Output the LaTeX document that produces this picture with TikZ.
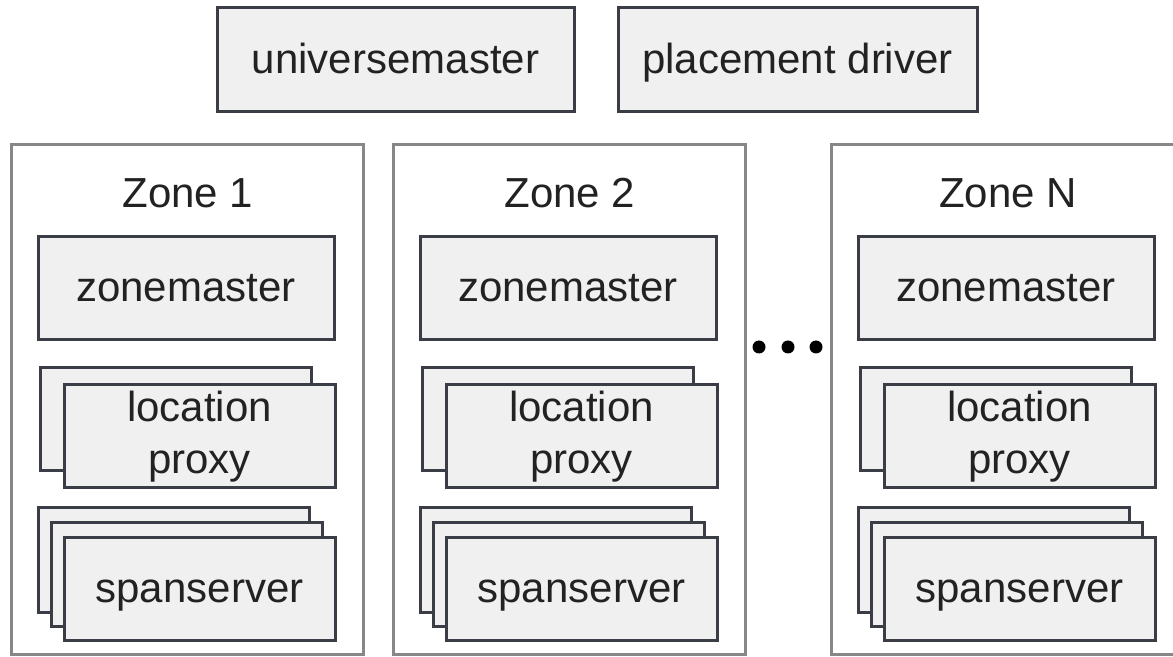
\documentclass[tikz,border=0pt]{standalone}
\usepackage{fontspec}
\setmainfont{Liberation Sans}
\definecolor{boxline}{RGB}{58,60,70}
\definecolor{boxfill}{RGB}{240,240,240}
\definecolor{zoneline}{RGB}{135,135,135}
\definecolor{textgray}{RGB}{34,34,34}

\begin{document}
\begin{tikzpicture}[x=0.5pt,y=-0.5pt,
    part/.style={draw=boxline,fill=boxfill,line width=1.5pt,minimum width=135.5pt,minimum height=51.5pt,
      inner sep=0pt,align=center,text=textgray,font=\fontsize{21}{26}\selectfont},
    oneline/.style={part,text height=16.4pt,text depth=2.5pt},
    zone/.style={draw=zoneline,line width=1.5pt,minimum width=176pt,minimum height=254.5pt,inner sep=0pt},
    zonename/.style={inner sep=0pt,text=textgray,font=\fontsize{21}{26}\selectfont},
    dot/.style={circle,fill=black,inner sep=0pt,minimum size=6.5pt}]
    \fill[white] (0,0) rectangle (1173,657);
    \useasboundingbox (0,0) rectangle (1173,657);

    \node[oneline,minimum width=178.5pt,minimum height=52pt] (univ) at (395.5,60) {universemaster};
    \node[oneline,minimum width=179.5pt,minimum height=52pt] (place) at (797.5,60) {placement driver};

    % zone 1
    \node[zone] (z1) at (187,399.5) {};
    \node[zonename] (z1name) at (188,193) {Zone 1};
    \node[oneline,minimum width=148pt] (zm1) at (186,288) {zonemaster};
    \node[part] (lpb1) at (176,419.5) {};
    \node[part] (lp1) at (199.5,436.5) {location\\proxy};
    \node[part,minimum height=52pt] (ssa1) at (173.5,560) {};
    \node[part] (ssb1) at (186.5,574.5) {};
    \node[oneline] (ss1) at (199.5,589) {spanserver};

    % zone 2
    \node[zone] (z2) at (569,399.5) {};
    \node[zonename] (z2name) at (570,193) {Zone 2};
    \node[oneline,minimum width=148pt] (zm2) at (568,288) {zonemaster};
    \node[part] (lpb2) at (558,419.5) {};
    \node[part] (lp2) at (581.5,436.5) {location\\proxy};
    \node[part,minimum height=52pt] (ssa2) at (555.5,560) {};
    \node[part] (ssb2) at (568.5,574.5) {};
    \node[oneline] (ss2) at (581.5,589) {spanserver};

    % dots between zone 2 and zone N
    \node[dot] (d1) at (759,347) {};
    \node[dot] (d2) at (788,347) {};
    \node[dot] (d3) at (816,347) {};

    % zone N
    \node[zone] (zN) at (1007,399.5) {};
    \node[zonename] (zNname) at (1008,193) {Zone N};
    \node[oneline,minimum width=148pt] (zmN) at (1006,288) {zonemaster};
    \node[part] (lpbN) at (996,419.5) {};
    \node[part] (lpN) at (1019.5,436.5) {location\\proxy};
    \node[part,minimum height=52pt] (ssaN) at (993.5,560) {};
    \node[part] (ssbN) at (1006.5,574.5) {};
    \node[oneline] (ssN) at (1019.5,589) {spanserver};
\end{tikzpicture}
\end{document}
